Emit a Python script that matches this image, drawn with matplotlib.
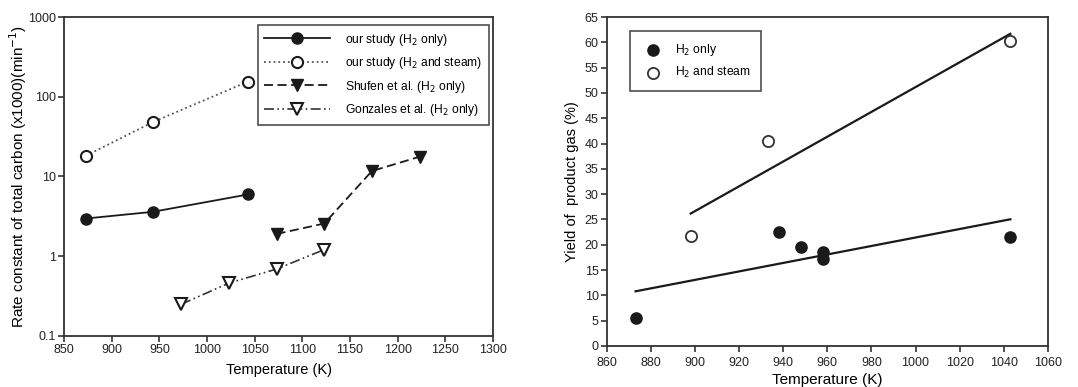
import numpy as np
import matplotlib
matplotlib.use("Agg")
import matplotlib.pyplot as plt

plt.rcParams['font.family'] = ['Liberation Sans', 'DejaVu Sans']

# Left panel data
our_h2_T = [873, 943, 1043]
our_h2_k = [2.97, 3.6, 5.95]
our_steam_T = [873, 943, 1043]
our_steam_k = [18.2, 48, 155]
shufen_T = [1073, 1123, 1173, 1223]
shufen_k = [1.9, 2.57, 11.7, 17.7]
gonz_T = [973, 1023, 1073, 1123]
gonz_k = [0.25, 0.46, 0.69, 1.21]

# Right panel data
h2_T = [873, 938, 948, 958, 958, 1043]
h2_y = [5.6, 22.5, 19.6, 18.6, 17.1, 21.6]
st_T = [898, 933, 1043]
st_y = [21.8, 40.5, 60.3]

fig = plt.figure(figsize=(10.78, 3.87), dpi=100)
ax1 = fig.add_axes([0.0594, 0.132, 0.3979, 0.824])
ax2 = fig.add_axes([0.563, 0.106, 0.409, 0.850])

c = '#1a1a1a'
ax1.plot(our_h2_T, our_h2_k, '-', color=c, lw=1.3, marker='o', ms=8, mfc=c, mec=c,
         label='our study (H$_2$ only)')
ax1.plot(our_steam_T, our_steam_k, ':', color='#555555', lw=1.3, marker='o', ms=8, mfc='white', mec=c, mew=1.5,
         label='our study (H$_2$ and steam)')
ax1.plot(shufen_T, shufen_k, '--', color=c, lw=1.3, marker='v', ms=8, mfc=c, mec=c, dashes=(5, 2.5),
         label='Shufen et al. (H$_2$ only)')
ax1.plot(gonz_T, gonz_k, color='#333333', lw=1.2, marker='v', ms=8, mfc='white', mec=c, mew=1.5,
         dashes=(6, 2, 1, 2, 1, 2), label='Gonzales et al. (H$_2$ only)')
ax1.set_yscale('log')
ax1.set_xlim(850, 1300)
ax1.set_ylim(0.1, 1000)
ax1.set_xticks(np.arange(850, 1301, 50))
ax1.set_yticks([0.1, 1, 10, 100, 1000])
ax1.set_yticklabels(['0.1', '1', '10', '100', '1000'])
ax1.minorticks_off()
ax1.set_xlabel('Temperature (K)', fontsize=10.5, labelpad=5)
ax1.set_ylabel('Rate constant of total carbon (x1000)(min$^{-1}$)', fontsize=11, labelpad=-1)
leg1 = ax1.legend(loc='upper right', bbox_to_anchor=(0.99, 0.975), borderaxespad=0, fontsize=8.7,
                  handlelength=5.4, frameon=True, fancybox=False, edgecolor='#222222', borderpad=0.55,
                  labelspacing=0.62, handletextpad=1.25)
leg1.get_frame().set_linewidth(1.2)

ax2.scatter(h2_T, h2_y, s=65, c=c, marker='o', label='H$_2$ only', zorder=3)
ax2.scatter(st_T, st_y, s=65, facecolors='white', edgecolors='#333333', linewidths=1.3, marker='o',
            label='H$_2$ and steam', zorder=3)
p1 = np.polyfit(h2_T, h2_y, 1)
p2 = np.polyfit(st_T, st_y, 1)
x1 = np.array([min(h2_T), max(h2_T)])
x2 = np.array([min(st_T), max(st_T)])
ax2.plot(x1, np.polyval(p1, x1), color=c, lw=1.6)
ax2.plot(x2, np.polyval(p2, x2), color=c, lw=1.6)
ax2.set_xlim(860, 1060)
ax2.set_ylim(0, 65)
ax2.set_xticks(np.arange(860, 1061, 20))
ax2.set_yticks(np.arange(0, 66, 5))
ax2.set_xlabel('Temperature (K)', fontsize=11, labelpad=3)
ax2.set_ylabel('Yield of  product gas (%)', fontsize=10.5, labelpad=4)
leg2 = ax2.legend(loc='upper left', bbox_to_anchor=(0.052, 0.957), borderaxespad=0, fontsize=8.7,
                  frameon=True, fancybox=False, edgecolor='#222222', borderpad=0.9, labelspacing=0.6,
                  handletextpad=0.8, scatterpoints=1)
leg2.get_frame().set_linewidth(1.2)

for ax in (ax1, ax2):
    for s in ax.spines.values():
        s.set_linewidth(1.3)
        s.set_color('#333333')
    ax.tick_params(direction='out', length=4, width=1.1, labelsize=9, colors='#222222', pad=2)
ax2.tick_params(axis='x', pad=4)

fig.savefig('out.png', dpi=100)
